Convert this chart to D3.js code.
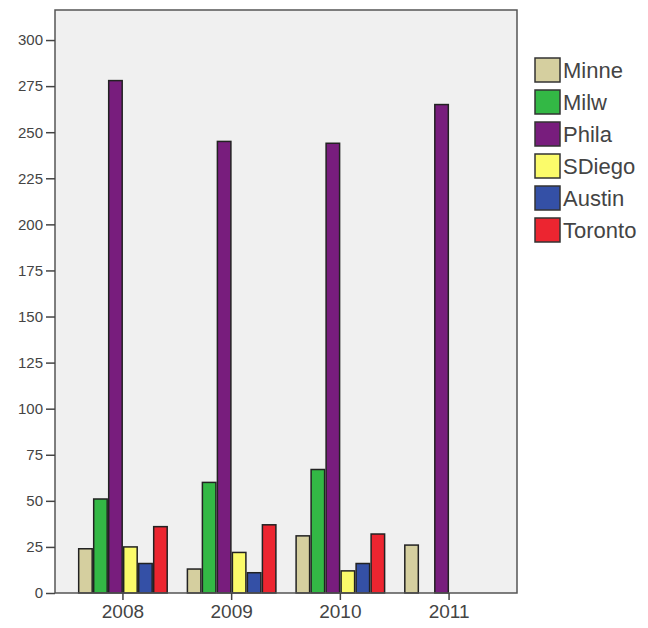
<!DOCTYPE html>
<html><head><meta charset="utf-8">
<script src="https://cdn.jsdelivr.net/npm/d3@7"></script>
<style>body{margin:0;background:#fff;}svg{display:block;}</style>
</head><body>
<script>
const years = ["2008", "2009", "2010", "2011"];
const seriesNames = ["Minne", "Milw", "Phila", "SDiego", "Austin", "Toronto"];
const colors = ["#d5cf9f", "#33b845", "#781d7d", "#fbfb6a", "#3450a6", "#ec2530"];
const minne   = [24, 13, 31, 26];
const milw    = [51, 60, 67, null];
const phila   = [278, 245, 244, 265];
const sdiego  = [25, 22, 12, null];
const austin  = [16, 11, 16, null];
const toronto = [36, 37, 32, null];
const yTicks = [0, 25, 50, 75, 100, 125, 150, 175, 200, 225, 250, 275, 300];

const seriesValues = [minne, milw, phila, sdiego, austin, toronto];
const W = 648, H = 628;
const plot = {left: 55, top: 10, right: 517, bottom: 593};
const FONT = "Liberation Sans, Arial, sans-serif";

const svg = d3.select("body").append("svg").attr("width", W).attr("height", H);

const y = d3.scaleLinear().domain([0, 316.3]).range([plot.bottom, plot.top]);
const x0 = d3.scaleBand().domain(years).range([plot.left, plot.right])
  .paddingInner(0.172).paddingOuter(0.211);
const x1 = d3.scaleBand().domain(seriesNames).range([0, x0.bandwidth()]);

svg.append("rect").attr("x", plot.left).attr("y", plot.top)
  .attr("width", plot.right - plot.left).attr("height", plot.bottom - plot.top)
  .attr("fill", "#f0f0f0");

const groups = svg.append("g").selectAll("g").data(years).join("g")
  .attr("transform", d => `translate(${x0(d)},0)`);
groups.selectAll("rect")
  .data((yr, i) => seriesNames.map((s, j) => ({s, j, v: seriesValues[j][i]})).filter(d => d.v != null))
  .join("rect")
  .attr("x", d => x1(d.s) + 0.75)
  .attr("y", d => y(d.v))
  .attr("width", x1.bandwidth() - 1.5)
  .attr("height", d => y(0) - y(d.v))
  .attr("fill", d => colors[d.j])
  .attr("stroke", "#222").attr("stroke-width", 1.5);

svg.append("rect").attr("x", plot.left).attr("y", plot.top)
  .attr("width", plot.right - plot.left).attr("height", plot.bottom - plot.top)
  .attr("fill", "none").attr("stroke", "#555").attr("stroke-width", 1.5);

const yAxis = svg.append("g").attr("transform", `translate(${plot.left},0)`)
  .call(d3.axisLeft(y).tickValues(yTicks).tickSize(9).tickPadding(3));
yAxis.select(".domain").remove();
yAxis.selectAll("line").attr("stroke", "#444").attr("stroke-width", 1.5);
yAxis.selectAll("text").attr("fill", "#444").attr("font-family", FONT).attr("font-size", 15);

const xAxis = svg.append("g").attr("transform", `translate(0,${plot.bottom})`)
  .call(d3.axisBottom(x0).tickSize(7).tickPadding(5));
xAxis.select(".domain").remove();
xAxis.selectAll("line").attr("stroke", "#444").attr("stroke-width", 1.5);
xAxis.selectAll("text").attr("fill", "#444").attr("font-family", FONT).attr("font-size", 19);

const legend = svg.append("g").selectAll("g").data(seriesNames).join("g")
  .attr("transform", (d, i) => `translate(535,${58 + i * 32})`);
legend.append("rect").attr("width", 25).attr("height", 24)
  .attr("fill", (d, i) => colors[i]).attr("stroke", "#333").attr("stroke-width", 1.5);
legend.append("text").attr("x", 28).attr("y", 20).text(d => d)
  .attr("fill", "#444").attr("font-family", FONT).attr("font-size", 22);
</script>
</body></html>
